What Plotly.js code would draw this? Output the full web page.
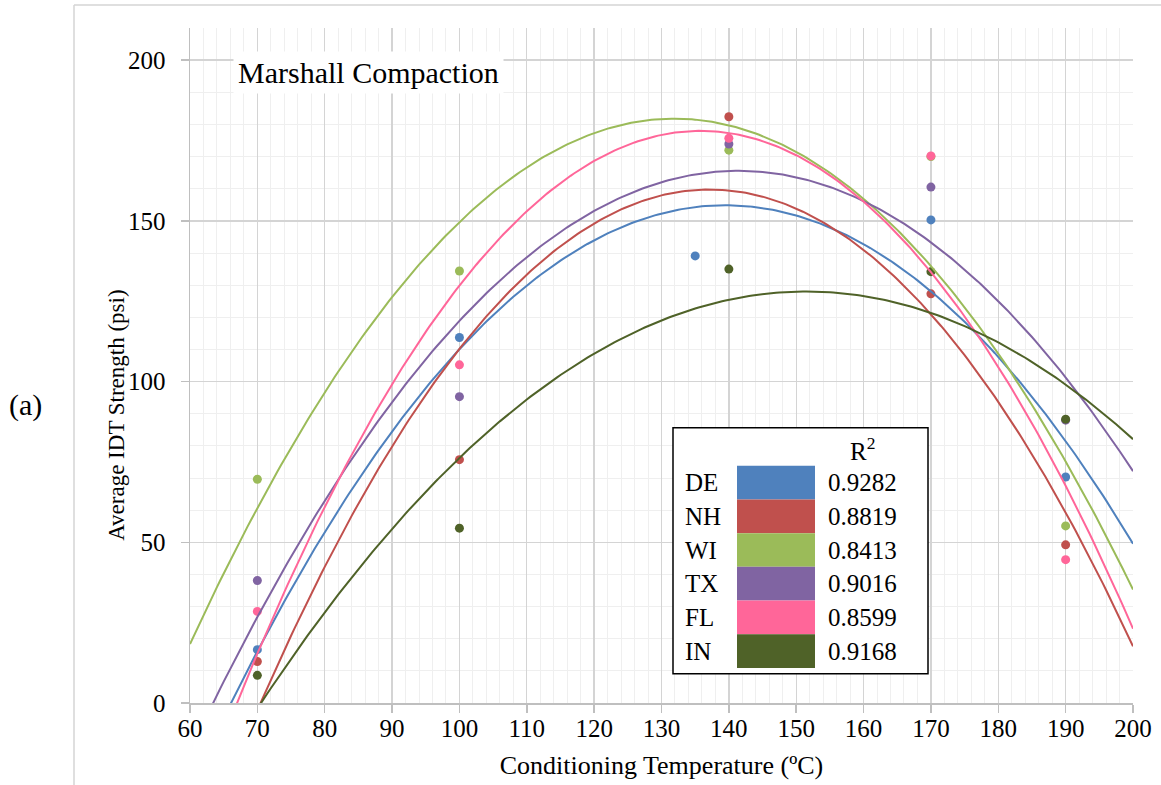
<!DOCTYPE html>
<html>
<head>
<meta charset="utf-8">
<script src="https://cdn.plot.ly/plotly-3.0.1.min.js"></script>
<style>
  html, body { margin: 0; padding: 0; background: #ffffff; }
  #chart { width: 1161px; height: 785px; }
</style>
</head>
<body>
<div id="chart"></div>
<script>
// Average IDT strength (psi) against conditioning temperature (ºC), Marshall compaction
const mixes = ['DE', 'NH', 'WI', 'TX', 'FL', 'IN'];
const mixColors = ['#4F81BD', '#C0504D', '#9BBB59', '#8064A2', '#FF6699', '#4F6228'];

const deTemp = [70, 100, 135, 170, 190];
const stdTemp = [70, 100, 140, 170, 190];

const deIDT = [16.6, 113.7, 139.1, 150.3, 70.3];
const nhIDT = [12.9, 75.7, 182.4, 127.3, 49.2];
const wiIDT = [69.6, 134.4, 172.0, 170.0, 55.1];
const txIDT = [38.1, 95.3, 173.9, 160.5, 88.0];
const flIDT = [28.5, 105.2, 175.7, 170.2, 44.6];
const inIDT = [8.6, 54.4, 135.0, 134.2, 88.3];

const rSquared = ['0.9282', '0.8819', '0.8413', '0.9016', '0.8599', '0.9168'];

const xTicks = [60, 70, 80, 90, 100, 110, 120, 130, 140, 150, 160, 170, 180, 190, 200];
const yTicks = [0, 50, 100, 150, 200];

const temps = [deTemp, stdTemp, stdTemp, stdTemp, stdTemp, stdTemp];
const strengths = [deIDT, nhIDT, wiIDT, txIDT, flIDT, inIDT];

// Least-squares 2nd-order polynomial trendline through a series
function quadFit(xs, ys) {
  const n = xs.length;
  let s1 = 0, s2 = 0, s3 = 0, s4 = 0, t0 = 0, t1 = 0, t2 = 0;
  for (let i = 0; i < n; i++) {
    const x = xs[i], y = ys[i];
    s1 += x; s2 += x * x; s3 += x * x * x; s4 += x * x * x * x;
    t0 += y; t1 += x * y; t2 += x * x * y;
  }
  const M = [[n, s1, s2, t0], [s1, s2, s3, t1], [s2, s3, s4, t2]];
  for (let c = 0; c < 3; c++) {
    let p = c;
    for (let r = c + 1; r < 3; r++) if (Math.abs(M[r][c]) > Math.abs(M[p][c])) p = r;
    [M[c], M[p]] = [M[p], M[c]];
    for (let r = 0; r < 3; r++) {
      if (r === c) continue;
      const f = M[r][c] / M[c][c];
      for (let k = c; k < 4; k++) M[r][k] -= f * M[c][k];
    }
  }
  return [M[0][3] / M[0][0], M[1][3] / M[1][1], M[2][3] / M[2][2]];
}

const X0 = 60, X1 = 200;
const traces = [];

// markers
mixes.forEach((m, i) => {
  traces.push({
    type: 'scatter', mode: 'markers', name: m, showlegend: false,
    x: temps[i], y: strengths[i],
    marker: { color: mixColors[i], size: 9 },
    cliponaxis: true, hoverinfo: 'x+y+name'
  });
});

// trendlines on top
mixes.forEach((m, i) => {
  const [a, b, c] = quadFit(temps[i], strengths[i]);
  const xs = [], ys = [];
  for (let x = X0; x <= X1 + 1e-9; x += 0.5) {
    xs.push(x);
    ys.push(a + b * x + c * x * x);
  }
  traces.push({
    type: 'scatter', mode: 'lines', name: m + ' fit', showlegend: false,
    x: xs, y: ys, line: { color: mixColors[i], width: 2 }, hoverinfo: 'skip'
  });
});

// pixel helpers for the plot area (left 190, right 1133, top 28, bottom 703.3)
const PL = 190, PR = 1133, PT = 28, PB = 703.3;
const px = v => (v - PL) / (PR - PL);
const py = v => (PB - v) / (PB - PT);

const serif = 'Liberation Serif';
const shapes = [];
const annotations = [];

// outer frame of the figure
shapes.push({ type: 'line', xref: 'paper', yref: 'paper', x0: px(74), x1: px(1175), y0: py(5), y1: py(5),
  line: { color: '#D4D4D4', width: 1.5 } });
shapes.push({ type: 'line', xref: 'paper', yref: 'paper', x0: px(74), x1: px(74), y0: py(5), y1: py(800),
  line: { color: '#D4D4D4', width: 1.5 } });

// R² table
const boxL = 673, boxR = 928, boxT = 428, boxB = 674;
shapes.push({ type: 'rect', xref: 'paper', yref: 'paper', x0: px(boxL), x1: px(boxR), y0: py(boxB), y1: py(boxT),
  fillcolor: '#FFFFFF', line: { color: '#000000', width: 1.5 }, layer: 'above' });
const rowTop = 466, rowH = 33.7, swL = 737, swR = 815;
mixes.forEach((m, i) => {
  const t = rowTop + i * rowH, b = t + rowH;
  shapes.push({ type: 'rect', xref: 'paper', yref: 'paper', x0: px(swL), x1: px(swR), y0: py(b), y1: py(t),
    fillcolor: mixColors[i], line: { width: 0 }, layer: 'above' });
  annotations.push({ xref: 'paper', yref: 'paper', x: px(683), y: py(t + rowH / 2), text: m, showarrow: false,
    xanchor: 'left', yanchor: 'middle', font: { family: serif, size: 25, color: '#000' } });
  annotations.push({ xref: 'paper', yref: 'paper', x: px(826), y: py(t + rowH / 2), text: rSquared[i], showarrow: false,
    xanchor: 'left', yanchor: 'middle', font: { family: serif, size: 25, color: '#000' } });
});
annotations.push({ xref: 'paper', yref: 'paper', x: px(862), y: py(449), text: 'R<sup>2</sup>', showarrow: false,
  xanchor: 'center', yanchor: 'middle', font: { family: serif, size: 25, color: '#000' } });

// chart label
annotations.push({ xref: 'paper', yref: 'paper', x: px(233), y: py(73), text: 'Marshall Compaction', showarrow: false,
  xanchor: 'left', yanchor: 'middle', bgcolor: '#FFFFFF', borderpad: 4,
  font: { family: serif, size: 30, color: '#000' } });

// panel label
annotations.push({ xref: 'paper', yref: 'paper', x: px(7), y: py(405), text: '(a)', showarrow: false,
  xanchor: 'left', yanchor: 'middle', font: { family: serif, size: 30, color: '#000' } });

// y-axis title, placed beside the tick labels
annotations.push({ xref: 'paper', yref: 'paper', x: px(117), y: py(416), text: 'Average IDT Strength (psi)',
  showarrow: false, textangle: -90, xanchor: 'center', yanchor: 'middle',
  font: { family: serif, size: 23, color: '#000' } });

const layout = {
  width: 1161, height: 785,
  margin: { l: PL, r: 1161 - PR, t: PT, b: 785 - PB, pad: 0 },
  paper_bgcolor: '#FFFFFF', plot_bgcolor: '#FFFFFF',
  showlegend: false,
  font: { family: serif, color: '#000' },
  xaxis: {
    range: [X0, X1], tickvals: xTicks, ticktext: xTicks.map(String),
    showgrid: true, gridcolor: '#D4D4D4', gridwidth: 1.3,
    minor: { dtick: 2, tick0: 60, showgrid: true, gridcolor: '#EFEFEF', gridwidth: 1 },
    showline: true, linecolor: '#BFBFBF', linewidth: 1.5,
    ticks: 'outside', ticklen: 8, tickcolor: '#BFBFBF', tickwidth: 1.5,
    ticklabelstandoff: -6,
    tickfont: { family: serif, size: 25, color: '#000' },
    zeroline: false,
    title: { text: 'Conditioning Temperature (ºC)', font: { family: serif, size: 26, color: '#000' }, standoff: 15 }
  },
  yaxis: {
    range: [0, 210], tickvals: yTicks, ticktext: yTicks.map(String),
    showgrid: true, gridcolor: '#D4D4D4', gridwidth: 1.3,
    minor: { dtick: 10, tick0: 0, showgrid: true, gridcolor: '#EFEFEF', gridwidth: 1 },
    showline: true, linecolor: '#BFBFBF', linewidth: 1.5,
    ticks: 'outside', ticklen: 8, tickcolor: '#BFBFBF', tickwidth: 1.5,
    ticklabelstandoff: 10,
    tickfont: { family: serif, size: 25, color: '#000' },
    zeroline: false
  },
  shapes: shapes,
  annotations: annotations
};

Plotly.newPlot('chart', traces, layout, { displayModeBar: false, staticPlot: true });
</script>
</body>
</html>
